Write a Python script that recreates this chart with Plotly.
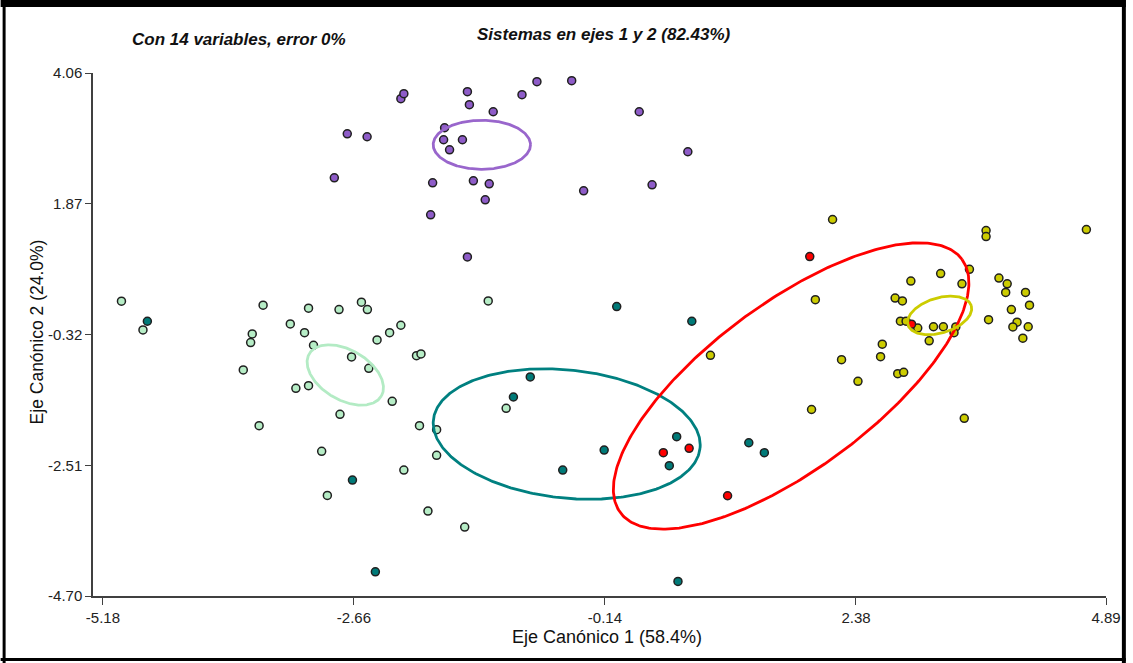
import numpy as np
import plotly.graph_objects as go

# ---------------- data ----------------
purple_x = [-2.189, -2.159, -1.521, -1.501, -2.727, -2.528, -1.750, -1.760, -1.571, -1.700,
            -2.857, -1.870, -1.461, -1.302, -1.342, -1.890, -1.521, -1.262, -0.973, -0.823,
            -0.474, 0.204, 0.692, -0.354, 0.333]
purple_y = [3.629, 3.713, 3.747, 3.529, 3.042, 2.992, 3.143, 2.942, 2.942, 2.774,
            2.305, 2.221, 2.254, 2.204, 1.936, 1.684, 0.980, 3.411, 3.696, 3.914,
            3.931, 3.411, 2.741, 2.087, 2.187]

mint_x = [-4.994, -4.778, -3.572, -3.681, -3.697, -3.771, -3.612, -3.299, -3.116, -3.156,
          -3.066, -2.810, -2.585, -2.525, -2.684, -2.511, -3.243, -3.116, -2.428, -2.302,
          -2.189, -2.276, -2.800, -2.032, -1.987, -2.002, -1.830, -1.830, -2.159, -2.984,
          -2.927, -1.917, -1.548, -1.312, -1.132]
mint_y = [0.238, -0.243, 0.171, -0.310, -0.456, -0.914, -1.848, -0.143, 0.120, -0.289,
          -0.500, 0.097, 0.221, 0.097, -0.696, -0.886, -1.221, -1.177, -0.411, -0.289,
          -0.165, -1.439, -1.657, -0.674, -0.646, -1.848, -1.915, -2.344, -2.591, -2.277,
          -3.015, -3.278, -3.546, 0.243, -1.556]

teal_x = [-4.734, -2.675, -2.445, -0.022, 0.732, -0.890, -1.059, -0.148, -0.564, 0.580,
          0.506, 1.304, 1.460, 0.593]
teal_y = [-0.098, -2.758, -4.295, 0.147, -0.098, -1.031, -1.367, -2.255, -2.591, -2.032,
          -2.518, -2.133, -2.300, -4.456]

red_x = [1.916, 2.938, 0.446, 0.705, 1.091]
red_y = [0.985, -0.148, -2.300, -2.227, -3.021]

yellow_x = [2.145, 1.972, 3.686, 3.686, 4.693, 3.519, 3.230, 2.931, 3.444, 2.773,
            2.846, 3.815, 3.898, 3.883, 4.082, 4.122, 3.940, 3.711, 3.997, 3.955,
            4.109, 4.055, 2.826, 2.883, 3.000, 3.158, 3.257, 3.382, 3.364, 3.115,
            2.644, 2.627, 2.235, 2.799, 2.859, 2.400, 1.934, 3.467, 0.919]
yellow_y = [1.606, 0.264, 1.421, 1.321, 1.438, 0.771, 0.700, 0.575, 0.528, 0.290,
            0.243, 0.625, 0.528, 0.385, 0.385, 0.171, 0.097, -0.071, -0.114, -0.193,
            -0.190, -0.381, -0.096, -0.096, -0.213, -0.190, -0.190, -0.193, -0.289, -0.425,
            -0.482, -0.691, -0.741, -0.976, -0.953, -1.104, -1.576, -1.724, -0.668]

# ellipses: centre, semi-axis vector u, semi-axis vector v (data units)
ell_purple = [(-1.376, 2.858), (0.4885, 0.0), (0.0, -0.411)]
ell_mint = [(-2.747, -0.998), (0.3627, -0.352), (-0.1246, -0.363)]
ell_teal = [(-0.524, -1.987), (1.3386, -0.2366), (-0.0667, -1.067)]
ell_red = [(1.729, -1.182), (1.716, 2.119), (0.4905, -1.123)]
ell_yellow = [(3.22, 0.0), (0.318, 0.159), (0.0499, -0.2816)]

x_ticks = [-5.18, -2.66, -0.14, 2.38, 4.89]
y_ticks = [-4.70, -2.51, -0.32, 1.87, 4.06]

title_left = "Con 14 variables, error 0%"
title_main = "Sistemas en ejes 1 y 2 (82.43%)"
x_title = "Eje Canónico 1 (58.4%)"
y_title = "Eje Canónico 2 (24.0%)"

# ---------------- figure ----------------
W, H = 1133, 663
L, R, T, B = 93, 20, 73, 67
PW, PH = W - L - R, H - T - B


def px_x(p):
    return (p - L) / PW


def px_y(p):
    return (H - B - p) / PH


fig = go.Figure()

groups = [
    (purple_x, purple_y, "#8E5CC8"),
    (mint_x, mint_y, "#B6EDC6"),
    (teal_x, teal_y, "#007A78"),
    (yellow_x, yellow_y, "#CCCC00"),
    (red_x, red_y, "#FF0000"),
]
for gx, gy, col in groups:
    fig.add_trace(go.Scatter(
        x=gx, y=gy, mode="markers",
        marker=dict(symbol="circle", size=8, color=col,
                    line=dict(color="#202020", width=1.5)),
        showlegend=False, hoverinfo="skip"))

t = np.linspace(0, 2 * np.pi, 361)
for (c, u, v), col in [(ell_purple, "#9966CC"), (ell_mint, "#B3EBC4"),
                       (ell_teal, "#008080"), (ell_red, "#FF0000"),
                       (ell_yellow, "#CCCC00")]:
    ex = c[0] + u[0] * np.cos(t) + v[0] * np.sin(t)
    ey = c[1] + u[1] * np.cos(t) + v[1] * np.sin(t)
    fig.add_trace(go.Scatter(x=ex, y=ey, mode="lines",
                             line=dict(color=col, width=2.8),
                             showlegend=False, hoverinfo="skip"))

font_fam = "Liberation Sans, Arial, sans-serif"

fig.update_xaxes(
    range=[-5.18 - (103 - L) / 100.3, 4.89],
    tickvals=x_ticks, ticktext=[f"{v:.2f}" for v in x_ticks],
    showline=True, linecolor="#404040", linewidth=1.5,
    ticks="outside", ticklen=7, tickwidth=1.2, tickcolor="#404040",
    showgrid=False, zeroline=False,
    tickfont=dict(family=font_fam, size=15, color="#222222"))
fig.update_yaxes(
    range=[-4.70, 4.06],
    tickvals=y_ticks, ticktext=[f"{v:.2f}" for v in y_ticks],
    showline=True, linecolor="#404040", linewidth=1.5,
    ticks="outside", ticklen=6, tickwidth=1.2, tickcolor="#404040",
    showgrid=False, zeroline=False,
    tickfont=dict(family=font_fam, size=15, color="#222222"))

annots = [
    dict(text=f"<b><i>{title_left}</i></b>", x=px_x(240), y=px_y(40),
         font=dict(size=17)),
    dict(text=f"<b><i>{title_main}</i></b>", x=px_x(608), y=px_y(35),
         font=dict(size=17)),
    dict(text=x_title, x=px_x(611), y=px_y(637), font=dict(size=18)),
    dict(text=y_title, x=px_x(37), y=px_y(332), font=dict(size=17.5),
         textangle=-90),
]
for a in annots:
    a.update(xref="paper", yref="paper", showarrow=False,
             xanchor="center", yanchor="middle")
    a["font"].update(family=font_fam, color="#111111")
    fig.add_annotation(**a)

# frame around the picture
frame = [
    (0, 0, W, 7),        # top bar
    (2, 0, 5, H),        # left line
    (W - 4, 0, W, H),    # right line
    (0, H - 5, W, H - 2),  # bottom line
]
for x0, y0, x1, y1 in frame:
    fig.add_shape(type="rect", xref="paper", yref="paper",
                  x0=px_x(x0), x1=px_x(x1), y0=px_y(y1), y1=px_y(y0),
                  fillcolor="black", line=dict(width=0), layer="above")

fig.update_layout(
    width=W, height=H, autosize=False,
    margin=dict(l=L, r=R, t=T, b=B),
    paper_bgcolor="white", plot_bgcolor="white",
    font=dict(family=font_fam),
)

fig.write_html("out.html",
               config={"responsive": False, "displayModeBar": False},
               post_script="document.documentElement.style.overflow='hidden';"
                           "document.body.style.margin='0';"
                           "document.body.style.overflow='hidden';")
